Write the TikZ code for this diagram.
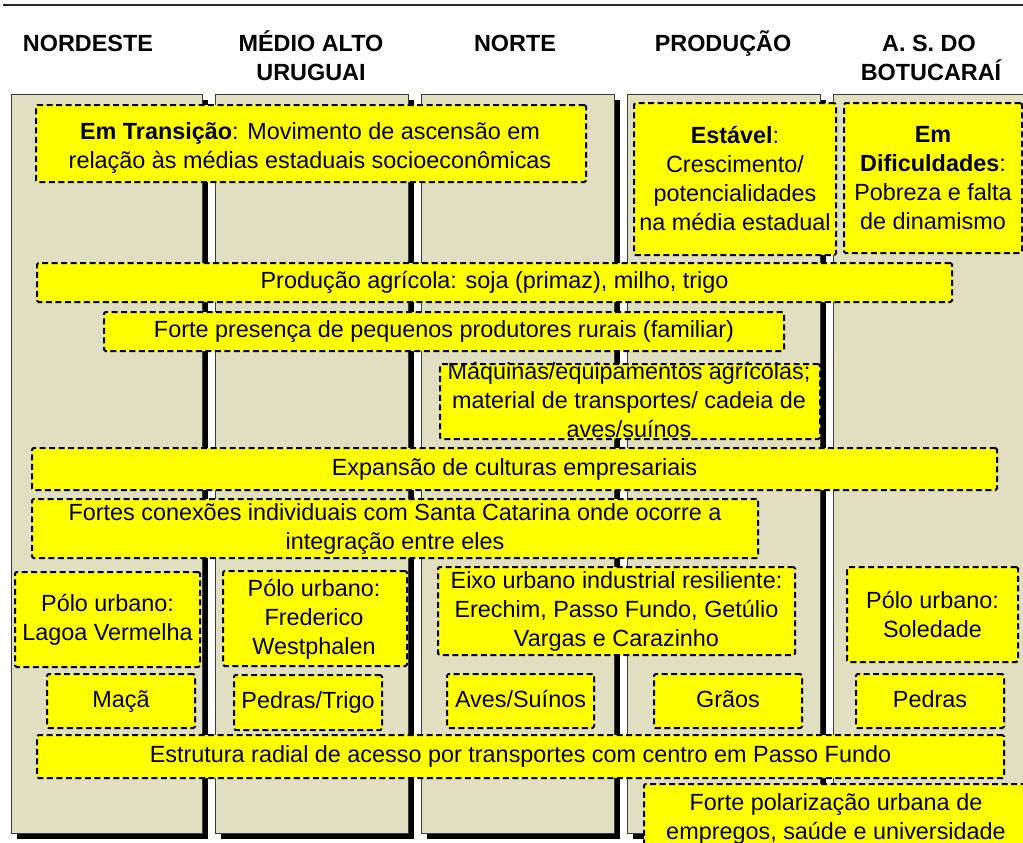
\documentclass[tikz,border=0pt]{standalone}
\usepackage{fontspec}
\setmainfont{Liberation Sans}
\usetikzlibrary{shadows}
\definecolor{beige}{RGB}{224,223,193}
\definecolor{yel}{RGB}{255,255,0}
\definecolor{colline}{RGB}{60,60,60}
\newcommand\myfs{\fontsize{23.4}{29}\selectfont}
\begin{document}
\begin{tikzpicture}[x=1pt,y=-1pt,
  colbox/.style={fill=beige, draw=colline, line width=1pt, inner sep=0pt, anchor=north west,
    drop shadow={shadow xshift=5pt, shadow yshift=-5pt, fill=black, opacity=1}},
  ybox/.style={draw=black, fill=yel, dash pattern=on 6pt off 3.5pt, line width=2pt,
    rounded corners=1.5pt, inner sep=0pt, align=center, font=\myfs, anchor=north west},
  one/.style={text height=17pt, text depth=5pt},
  sz/.style 2 args={minimum width=#1pt, minimum height=#2pt},
  hdr/.style={font=\myfs\bfseries, anchor=base},
  txt/.style={font=\myfs, align=center, anchor=base, inner sep=0pt}]
\useasboundingbox (0,0) rectangle (1023,843);
\clip (0,0) rectangle (1023,843);
% top rule
\coordinate (r1) at (3,5);
\coordinate (r2) at (1023,5);
\draw[line width=2.5pt, black!85] (r1) -- (r2);
% headers
\node[hdr] (h1) at (88,52) {NORDESTE};
\node[hdr] (h2a) at (311,52) {MÉDIO ALTO};
\node[hdr] (h2b) at (311,81) {URUGUAI};
\node[hdr] (h3) at (515,52) {NORTE};
\node[hdr] (h4) at (723,52) {PRODUÇÃO};
\node[hdr] (h5a) at (929,52) {A. S. DO};
\node[hdr] (h5b) at (931,81) {BOTUCARAÍ};
% columns
\node[colbox, sz={191}{739}] (c1) at (11,94) {};
\node[colbox, sz={193}{739}] (c2) at (215,94) {};
\node[colbox, sz={193}{739}] (c3) at (421,94) {};
\node[colbox, sz={193}{739}] (c4) at (627,94) {};
\node[colbox, sz={193}{739}] (c5) at (833,94) {};
% boxes
\node[ybox, sz={550}{77}] (trans) at (35,104) {};
\node[txt] (transt) at (310,168)
  {{\bfseries Em Transição}: Movimento de ascensão em\\relação às médias estaduais socioeconômicas};
\node[ybox, sz={202}{152}] (estavel) at (633,102)
  {{\bfseries Estável}:\\Crescimento/\\potencialidades\\na média estadual};
\node[ybox, sz={178}{150}] (dific) at (843,102)
  {{\bfseries Em}\\{\bfseries Dificuldades}:\\Pobreza e falta\\de dinamismo};
\node[ybox, one, sz={915}{39}] (prod) at (36,262) {Produção agrícola: soja (primaz), milho, trigo};
\node[ybox, one, sz={680}{39}] (forte) at (103,311) {Forte presença de pequenos produtores rurais (familiar)};
\node[ybox, sz={380}{75}] (maq) at (439,363) {};
\node[txt] (maqt) at (629,437) {Máquinas/equipamentos agrícolas;\\material de transportes/ cadeia de\\aves/suínos};
\node[ybox, one, sz={965}{42}] (expan) at (31,447) {Expansão de culturas empresariais};
\node[ybox, sz={726}{59}] (conex) at (31,498)
  {Fortes conexões individuais com Santa Catarina onde ocorre a\\integração entre eles};
\node[ybox, sz={185}{95}] (polo1) at (14,571) {Pólo urbano:\\Lagoa Vermelha};
\node[ybox, sz={184}{95}] (polo2) at (222,570) {};
\node[txt] (polo2t) at (314,654) {Pólo urbano:\\Frederico\\Westphalen};
\node[ybox, sz={357}{88}] (eixo) at (437,566)
  {Eixo urbano industrial resiliente:\\Erechim, Passo Fundo, Getúlio\\Vargas e Carazinho};
\node[ybox, sz={171}{95}] (polo5) at (846,566) {Pólo urbano:\\Soledade};
\node[ybox, one, sz={148}{54}] (maca) at (46,673) {Maçã};
\node[ybox, one, sz={148}{55}, yshift=-2pt] (pedtri) at (233,672) {Pedras/Trigo};
\node[ybox, one, sz={147}{54}] (aves) at (446,673) {Aves/Suínos};
\node[ybox, one, sz={148}{54}] (graos) at (653,673) {Grãos};
\node[ybox, one, sz={148}{54}, yshift=-1pt] (pedras) at (855,672) {Pedras};
\node[ybox, one, sz={967}{43}] (estr) at (36,734)
  {Estrutura radial de acesso por transportes com centro em Passo Fundo};
\node[ybox, sz={384}{70}] (polar) at (643,783)
  {Forte polarização urbana de\\empregos, saúde e universidade};
\end{tikzpicture}
\end{document}
